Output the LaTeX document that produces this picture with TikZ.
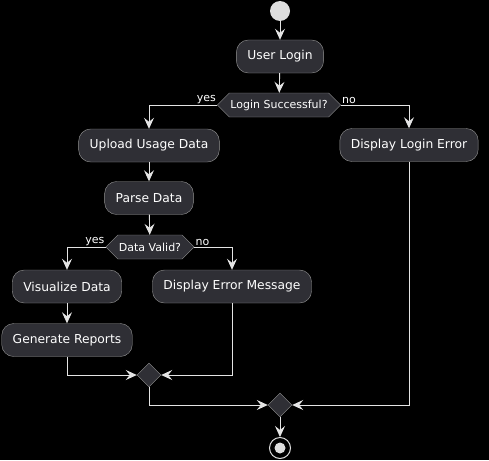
\documentclass[tikz,border=0pt]{standalone}
\usepackage{fontspec}
\setmainfont{DejaVu Sans}
\usetikzlibrary{arrows.meta, shapes.geometric, shapes.symbols, positioning}
\definecolor{bgblack}{RGB}{0,0,0}
\definecolor{actfill}{RGB}{47,47,53}
\definecolor{actdraw}{RGB}{150,150,150}
\definecolor{linewhite}{RGB}{228,228,228}
\definecolor{dotgray}{RGB}{222,222,222}
\tikzset{
  actbox/.style={rectangle,rounded corners=12pt,draw=actdraw,fill=actfill,text=white,
    minimum height=33pt,inner xsep=11pt,font=\fontsize{12.3}{14}\selectfont},
  decbox/.style={signal,signal to=west and east,signal pointer angle=90,draw=actdraw,fill=actfill,
    text=white,minimum height=24pt,inner xsep=1pt,inner ysep=0pt,font=\fontsize{11}{13}\selectfont},
  mergebox/.style={diamond,draw=actdraw,fill=actfill,minimum size=24pt,inner sep=0pt},
  lbl/.style={text=white,font=\fontsize{11}{13}\selectfont,inner sep=1pt},
  arr/.style={-{Stealth[length=11pt,width=10pt,inset=4pt]},color=linewhite,line width=0.9pt},
  seg/.style={color=linewhite,line width=0.9pt}
}
\begin{document}
\begin{tikzpicture}[x=1pt,y=-1pt]
  \fill[bgblack] (0,0) rectangle (489,460);
  \useasboundingbox (0,0) rectangle (489,460);
  % start / end
  \node[circle,fill=dotgray,minimum size=20pt,inner sep=0pt] (start) at (280,11) {};
  \node[circle,draw=dotgray,line width=1pt,minimum size=21pt,inner sep=0pt] (stop) at (280,448) {};
  \node[circle,fill=dotgray,minimum size=11pt,inner sep=0pt] at (stop) {};
  % activities
  \node[actbox] (login) at (280,56.5) {User Login};
  \node[decbox] (okq) at (279,105) {Login Successful?};
  \node[actbox] (upload) at (149,145.5) {Upload Usage Data};
  \node[actbox] (loginerr) at (409,145) {Display Login Error};
  \node[actbox] (parse) at (149,198) {Parse Data};
  \node[decbox] (validq) at (150,247) {Data Valid?};
  \node[actbox] (visual) at (67,286.5) {Visualize Data};
  \node[actbox] (errmsg) at (232,286.5) {Display Error Message};
  \node[actbox] (report) at (67,340) {Generate Reports};
  \node[mergebox] (mergeA) at (149,375) {};
  \node[mergebox] (mergeB) at (280,405) {};
  % flow
  \draw[arr] (start) -- (login);
  \draw[arr] (login) -- (okq);
  \draw[arr] (okq.west) -| (upload.north);
  \node[lbl,anchor=south east] (yesA) at (okq.west) {yes};
  \draw[arr] (okq.east) -| (loginerr.north);
  \node[lbl,anchor=south west] (noA) at (okq.east) {no};
  \draw[arr] (upload) -- (parse);
  \draw[arr] (parse) -- (validq);
  \draw[arr] (validq.west) -| (visual.north);
  \node[lbl,anchor=south east] (yesB) at (validq.west) {yes};
  \draw[arr] (validq.east) -| (errmsg.north);
  \node[lbl,anchor=south west] (noB) at (validq.east) {no};
  \draw[arr] (visual) -- (report);
  \draw[arr] (report.south) |- (mergeA.west);
  \draw[arr] (errmsg.south) |- (mergeA.east);
  \draw[arr] (mergeA.south) |- (mergeB.west);
  \draw[arr] (loginerr.south) |- (mergeB.east);
  \draw[arr] (mergeB) -- (stop);
\end{tikzpicture}
\end{document}
